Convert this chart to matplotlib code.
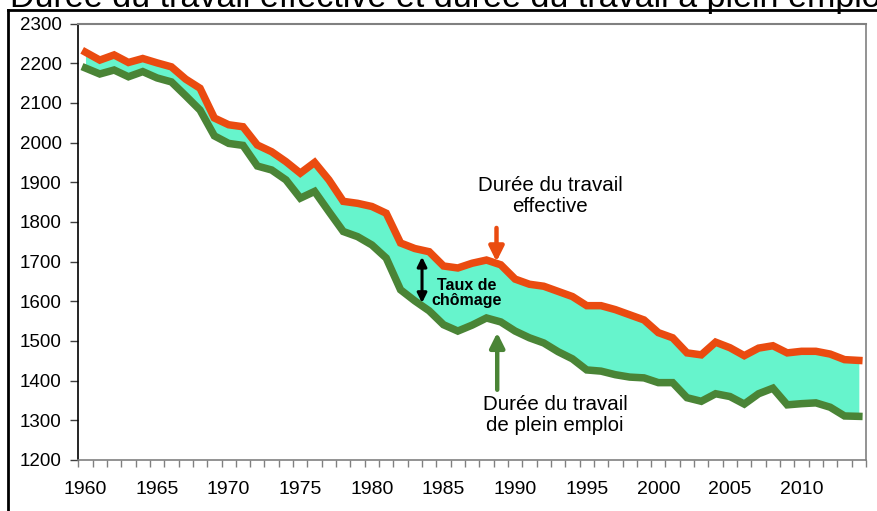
import matplotlib
matplotlib.use("Agg")
import matplotlib.pyplot as plt
from matplotlib.lines import Line2D
import numpy as np

plt.rcParams['font.family'] = ['Liberation Sans', 'DejaVu Sans']

years = list(range(1960, 2015))
effective = [2228, 2208, 2221, 2202, 2212, 2201, 2191, 2160, 2137, 2062,
             2045, 2040, 1994, 1977, 1952, 1923, 1950, 1906, 1852, 1847,
             1839, 1822, 1747, 1733, 1725, 1689, 1684, 1696, 1704, 1692,
             1656, 1643, 1638, 1625, 1612, 1589, 1589, 1579, 1566, 1553,
             1521, 1508, 1470, 1465, 1497, 1483, 1463, 1482, 1488, 1470,
             1474, 1474, 1467, 1453, 1451]
plein_emploi = [2188, 2173, 2183, 2166, 2179, 2163, 2153, 2118, 2082, 2017,
                1998, 1993, 1941, 1931, 1906, 1860, 1877, 1826, 1776, 1763,
                1742, 1709, 1629, 1601, 1576, 1541, 1525, 1540, 1558, 1548,
                1525, 1508, 1495, 1473, 1455, 1427, 1424, 1415, 1409, 1407,
                1395, 1395, 1357, 1348, 1367, 1360, 1341, 1367, 1381, 1339,
                1342, 1344, 1333, 1311, 1310]
ytick_values = [1200, 1300, 1400, 1500, 1600, 1700, 1800, 1900, 2000, 2100, 2200, 2300]
xtick_years = [1960, 1965, 1970, 1975, 1980, 1985, 1990, 1995, 2000, 2005, 2010]

title = "Durée du travail effective et durée du travail à plein emploi"

ORANGE = '#EA4B10'
GREEN = '#4A8436'
FILL = '#66F4CC'

W, H = 877, 511
fig = plt.figure(figsize=(W / 100, H / 100), dpi=100)
ax = fig.add_axes([78.3 / W, (H - 460) / H, (866 - 78.3) / W, (460 - 23.6) / H])

ax.fill_between(years, plein_emploi, effective, color=FILL, lw=0, zorder=1)
ax.plot(years, plein_emploi, color=GREEN, lw=5.4, solid_joinstyle='miter', zorder=2)
ax.plot(years, effective, color=ORANGE, lw=5.4, solid_joinstyle='miter', zorder=3)

ax.set_xlim(years[0] - 0.5, years[-1] + 0.5)
ax.set_ylim(ytick_values[0], ytick_values[-1])

ax.set_yticks(ytick_values)
ax.set_yticklabels([str(v) for v in ytick_values])
ax.set_xticks(xtick_years)
ax.set_xticklabels([str(v) for v in xtick_years])
ax.set_xticks(np.arange(years[0] - 0.5, years[-1] + 1.0, 1.0), minor=True)
ax.tick_params(axis='x', which='major', length=0, pad=15, labelsize=14)
ax.tick_params(axis='x', which='minor', length=5, width=1, color='#808080')
ax.tick_params(axis='y', which='major', length=6, width=1, pad=6, labelsize=13.5,
               color='#404040')

ax.spines['left'].set_color('black')
ax.spines['left'].set_linewidth(1.2)
ax.spines['bottom'].set_color('#808080')
ax.spines['bottom'].set_linewidth(1.2)
ax.spines['top'].set_color('#808080')
ax.spines['top'].set_linewidth(1.5)
ax.spines['right'].set_color('#808080')
ax.spines['right'].set_linewidth(1.2)

# annotations
ax.text(1992.45, 1866, "Durée du travail\neffective", ha='center', va='center',
        fontsize=14.8, linespacing=1.1)
ax.annotate("", xy=(1988.7, 1700), xytext=(1988.7, 1785),
            arrowprops=dict(arrowstyle='-|>', color=ORANGE, lw=3.2,
                            mutation_scale=22, shrinkA=0, shrinkB=0))

ax.text(1992.8, 1314, "Durée du travail\nde plein emploi", ha='center', va='center',
        fontsize=14.8, linespacing=1.1)
ax.annotate("", xy=(1988.75, 1521), xytext=(1988.75, 1377),
            arrowprops=dict(arrowstyle='-|>', color=GREEN, lw=3.2,
                            mutation_scale=22, shrinkA=0, shrinkB=0))

ax.annotate("", xy=(1983.5, 1712), xytext=(1983.5, 1596),
            arrowprops=dict(arrowstyle='<|-|>', color='black', lw=2.2,
                            mutation_scale=14, shrinkA=0, shrinkB=0))
ax.text(1986.6, 1621, "Taux de\nchômage", ha='center', va='center',
        fontsize=11.5, fontweight='bold', linespacing=1.0)

# title (partially cut at top, as in the reference) and outer frame
fig.text(10 / W, 1 - 6.5 / H, title, ha='left', va='baseline', fontsize=24.5)
fig.add_artist(Line2D([8 / W, 1.0], [1 - 10 / H, 1 - 10 / H], color='black', lw=2,
                      transform=fig.transFigure))
fig.add_artist(Line2D([8 / W, 8 / W], [0, 1 - 10 / H], color='black', lw=2,
                      transform=fig.transFigure))

fig.savefig("out.png", dpi=100)
